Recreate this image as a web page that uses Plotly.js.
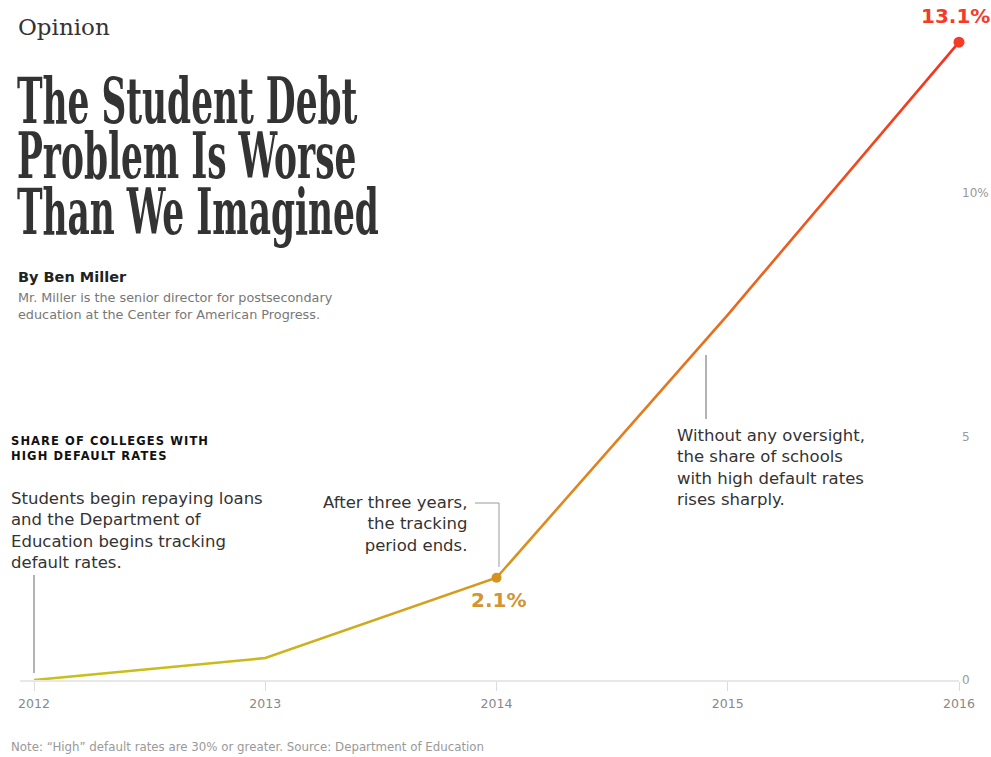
<!DOCTYPE html>
<html>
<head>
<meta charset="utf-8">
<script src="https://cdn.plot.ly/plotly-3.0.1.min.js"></script>
<style>
  html, body { margin: 0; padding: 0; background: #fff; }
  #chart { width: 991px; height: 757px; }
</style>
</head>
<body>
<div id="chart"></div>
<script>
// ---------- data ----------
const years = [2012, 2013, 2014, 2015, 2016];
const share = [0, 0.45, 2.1, 7.5, 13.1];          // % of colleges with high default rates
const xTickText = ['2012', '2013', '2014', '2015', '2016'];
const yTickVals = [0, 5, 10];
const yTickText = ['0', '5', '10%'];
const highlightIdx = [2, 4];                        // points with dots + labels
const headline = ['The Student Debt', 'Problem Is Worse', 'Than We Imagined'];

// ---------- helpers: pixel -> paper (plot area 20..959 x, 30..680 y) ----------
const L = 20, R = 32, T = 30, B = 77, W = 991, H = 757;
const PW = W - L - R, PH = H - T - B;
const X = px => (px - L) / PW;
const Y = py => (H - B - py) / PH;

const dark = '#333333';
const lineTrace = {
  x: years, y: share, type: 'scatter', mode: 'lines',
  line: { color: '#e07a1c', width: 2.6 },
  hoverinfo: 'skip', cliponaxis: false
};
const dotTrace = {
  x: highlightIdx.map(i => years[i]),
  y: highlightIdx.map(i => share[i]),
  type: 'scatter', mode: 'markers',
  marker: { size: [10, 11], color: ['#d4921f', '#f53b27'], opacity: 1, line: { width: 0 } },
  hoverinfo: 'skip', cliponaxis: false
};

const body = { family: 'DejaVu Sans, sans-serif', size: 16.5, color: dark };
const titleFont = { family: 'DejaVu Serif Condensed, DejaVu Serif, serif', size: 44, color: dark, weight: 'bold' };

const annotations = [
  { text: 'Opinion', x: X(17), y: Y(27), font: { family: 'DejaVu Serif, serif', size: 23, color: dark } },
  { text: headline.join('<br>'), x: X(17), y: Y(70), yanchor: 'top', font: titleFont },
  { text: 'By Ben Miller', x: X(17), y: Y(277), font: { family: 'DejaVu Sans, sans-serif', size: 14.5, color: '#222', weight: 'bold' } },
  { text: 'Mr. Miller is the senior director for postsecondary<br>education at the Center for American Progress.', x: X(17), y: Y(306), font: { family: 'DejaVu Sans, sans-serif', size: 12.8, color: '#777' } },
  { text: 'SHARE OF COLLEGES WITH<br>HIGH DEFAULT RATES', x: X(10), y: Y(448), font: { family: 'DejaVu Sans, sans-serif', size: 11.5, color: '#111', weight: 'bold' } },
  { text: 'Students begin repaying loans<br>and the Department of<br>Education begins tracking<br>default rates.', x: X(10), y: Y(530.5), font: body },
  { text: 'After three years,<br>the tracking<br>period ends.', x: X(468), y: Y(524), xanchor: 'right', align: 'right', font: body },
  { text: 'Without any oversight,<br>the share of schools<br>with high default rates<br>rises sharply.', x: X(676), y: Y(467), font: body },
  { text: share[2].toFixed(1) + '%', xref: 'x', yref: 'y', x: years[2], y: share[2], xanchor: 'center', yshift: -22, xshift: 2, font: { family: 'DejaVu Sans, sans-serif', size: 20, color: '#d39431', weight: 'bold' } },
  { text: share[4].toFixed(1) + '%', xref: 'x', yref: 'y', x: years[4], y: share[4], xanchor: 'center', yshift: 26, xshift: -4, font: { family: 'DejaVu Sans, sans-serif', size: 20, color: '#f53b27', weight: 'bold' } },
  { text: 'Note: \u201cHigh\u201d default rates are 30% or greater. Source: Department of Education', x: X(10), y: Y(747), font: { family: 'DejaVu Sans, sans-serif', size: 11.8, color: '#999' } }
].map(a => Object.assign({ xref: 'paper', yref: 'paper', xanchor: 'left', yanchor: 'middle', align: 'left', showarrow: false, borderpad: 0 }, a));

const shapes = [
  { type: 'line', xref: 'x', yref: 'paper', x0: years[0], x1: years[0], y0: Y(575), y1: Y(673), line: { color: '#666', width: 1 } },
  { type: 'path', xref: 'paper', yref: 'paper', path: `M ${X(475)} ${Y(503)} L ${X(499)} ${Y(503)} L ${X(499)} ${Y(567)}`, line: { color: '#999', width: 1 } },
  { type: 'line', xref: 'paper', yref: 'paper', x0: X(706), x1: X(706), y0: Y(355), y1: Y(419), line: { color: '#666', width: 1 } }
];

const layout = {
  width: W, height: H,
  margin: { l: L, r: R, t: T, b: B },
  paper_bgcolor: '#fff', plot_bgcolor: '#fff',
  showlegend: false,
  xaxis: {
    range: [2012 - 14 / 231.25, 2016], tickvals: years, ticktext: xTickText,
    ticks: 'outside', ticklen: 9, tickwidth: 1, tickcolor: '#dcdcdc', ticklabelstandoff: 2,
    showgrid: false, zeroline: false, showline: true, linecolor: '#e8e8e8', linewidth: 2,
    tickfont: { family: 'DejaVu Sans, sans-serif', size: 12.5, color: '#888' }, fixedrange: true
  },
  yaxis: {
    range: [0, 13.35], side: 'right', tickvals: yTickVals, ticktext: yTickText,
    ticks: '', showgrid: false, zeroline: false, showline: false, ticklabelstandoff: 2,
    tickfont: { family: 'DejaVu Sans, sans-serif', size: 12, color: '#999' }, fixedrange: true
  },
  annotations: annotations,
  shapes: shapes
};

// visual tweaks after render: condensed headline, tracking on the label
const headStyle = { index: 1, widths: [338, 340, 364], sy: 1.43, lineGap: 55.5, left: 17, base: 123 };
const spacing = { 4: 1.1 };
const gradStops = [[0, '#c8c21a'], [0.25, '#ccb71c'], [0.5, '#d8951f'], [0.75, '#ea6a1c'], [1, '#f5301f']];

Plotly.newPlot('chart', [lineTrace, dotTrace], layout, { displayModeBar: false, staticPlot: true }).then(gd => {
  const ns = 'http://www.w3.org/2000/svg';
  Object.keys(spacing).forEach(i => {
    const t = gd.querySelector(`.annotation[data-index="${i}"] text.annotation-text`);
    if (t) t.style.letterSpacing = spacing[i] + 'px';
  });
  // headline
  const t = gd.querySelector(`.annotation[data-index="${headStyle.index}"] text.annotation-text`);
  if (t) {
    const hs = headStyle;
    const lines = t.querySelectorAll('tspan.line');
    lines.forEach((ln, k) => { ln.setAttribute('dy', (k * hs.lineGap / hs.sy) + 'px'); });
    let natural = 0;
    lines.forEach(ln => { natural += ln.getComputedTextLength(); });
    const sx = hs.widths.reduce((a, b) => a + b, 0) / (natural || 1);
    const bb = t.getBBox();
    const p0 = t.getStartPositionOfChar(0);
    const m = t.getScreenCTM();
    const absLeft = bb.x * m.a + m.e;
    const absBase = p0.y * m.d + m.f;
    const dx = hs.left - absLeft, dy = hs.base - absBase;
    t.setAttribute('transform',
      `translate(${bb.x + dx},${p0.y + dy}) scale(${sx},${hs.sy}) translate(${-bb.x},${-p0.y})`);
  }
  // gradient line
  const svg = gd.querySelector('.main-svg');
  let defs = svg.querySelector('defs');
  if (!defs) { defs = document.createElementNS(ns, 'defs'); svg.insertBefore(defs, svg.firstChild); }
  const lg = document.createElementNS(ns, 'linearGradient');
  lg.setAttribute('id', 'lineGrad');
  lg.setAttribute('x1', '0'); lg.setAttribute('y1', '0'); lg.setAttribute('x2', '1'); lg.setAttribute('y2', '0');
  gradStops.forEach(([o, c]) => {
    const st = document.createElementNS(ns, 'stop');
    st.setAttribute('offset', o); st.setAttribute('stop-color', c);
    lg.appendChild(st);
  });
  defs.appendChild(lg);
  const path = gd.querySelector('.scatterlayer .trace path.js-line');
  if (path) path.style.setProperty('stroke', 'url(#lineGrad)');
});
</script>
</body>
</html>
